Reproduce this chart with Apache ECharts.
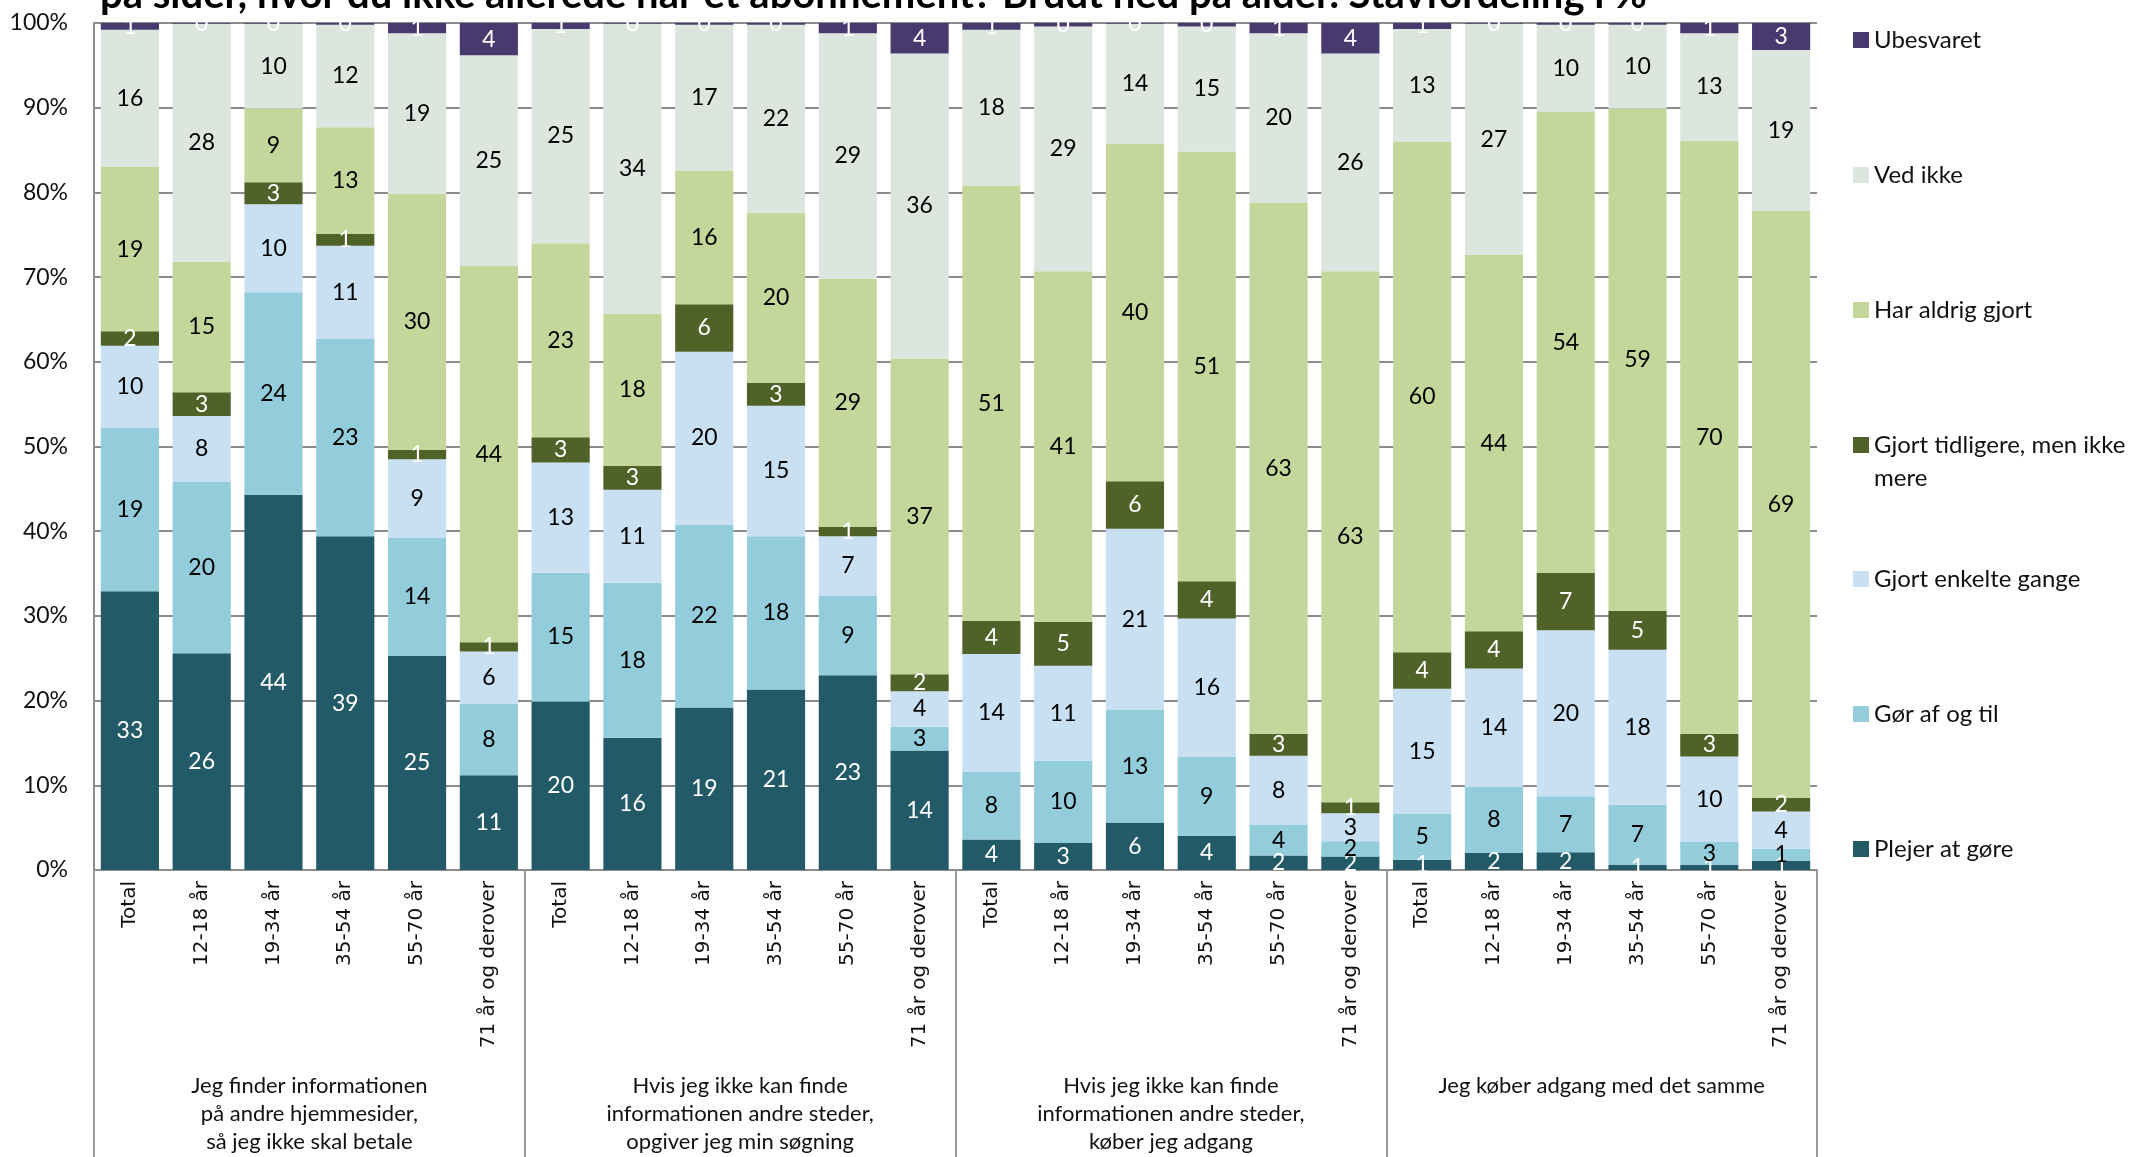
<!DOCTYPE html>
<html>
<head>
<meta charset="utf-8">
<title>Stavfordeling i %</title>
<script src="https://cdn.jsdelivr.net/npm/echarts@6/dist/echarts.min.js"></script>
<style>
  html, body { margin: 0; padding: 0; background: #ffffff; }
  #chart { width: 2141px; height: 1157px; }
</style>
</head>
<body>
<div id="chart"></div>
<script>
// Age groups shown under every statement
const ageGroups = ['Total', '12-18 år', '19-34 år', '35-54 år', '55-70 år', '71 år og derover'];

// Statements (one block of six bars each)
const statements = [
  'Jeg finder informationen\npå andre hjemmesider,\nså jeg ikke skal betale',
  'Hvis jeg ikke kan finde\ninformationen andre steder,\nopgiver jeg min søgning',
  'Hvis jeg ikke kan finde\ninformationen andre steder,\nkøber jeg adgang',
  'Jeg køber adgang med det samme'
];

// Answer categories, bottom of the stack first
const seriesNames = [
  'Plejer at gøre',
  'Gør af og til',
  'Gjort enkelte gange',
  'Gjort tidligere, men ikke mere',
  'Har aldrig gjort',
  'Ved ikke',
  'Ubesvaret'
];

// Shares in % (6 age groups per statement, 4 statements)
const plejerAtGore = [
  32.9, 25.6, 44.3, 39.4, 25.3, 11.2,
  19.9, 15.6, 19.2, 21.3, 23.0, 14.1,
  3.6, 3.2, 5.6, 4.0, 1.7, 1.6,
  1.2, 2.0, 2.1, 0.6, 0.6, 1.1
];
const gorAfOgTil = [
  19.3, 20.2, 23.9, 23.3, 13.9, 8.4,
  15.2, 18.3, 21.6, 18.1, 9.4, 2.8,
  8.0, 9.7, 13.3, 9.4, 3.6, 1.8,
  5.4, 7.8, 6.6, 7.1, 2.7, 1.4
];
const gjortEnkelteGange = [
  9.7, 7.8, 10.4, 11.0, 9.3, 6.2,
  13.0, 11.0, 20.4, 15.4, 7.0, 4.2,
  13.9, 11.2, 21.4, 16.3, 8.2, 3.3,
  14.8, 14.0, 19.6, 18.3, 10.1, 4.4
];
const gjortTidligere = [
  1.7, 2.8, 2.6, 1.4, 1.1, 1.1,
  3.0, 2.8, 5.6, 2.7, 1.1, 2.0,
  3.9, 5.2, 5.6, 4.4, 2.6, 1.3,
  4.3, 4.4, 6.8, 4.6, 2.7, 1.6
];
const harAldrigGjort = [
  19.4, 15.4, 8.7, 12.6, 30.2, 44.4,
  22.9, 18.0, 15.8, 20.1, 29.3, 37.3,
  51.4, 41.4, 39.8, 50.7, 62.7, 62.7,
  60.3, 44.4, 54.4, 59.3, 70.0, 69.3
];
const vedIkke = [
  16.2, 28.1, 10.0, 12.1, 19.0, 24.9,
  25.3, 34.2, 17.2, 22.2, 29.0, 36.0,
  18.4, 28.9, 14.2, 14.8, 20.0, 25.7,
  13.3, 27.3, 10.3, 9.9, 12.7, 19.0
];
const ubesvaret = [
  0.8, 0.1, 0.1, 0.2, 1.2, 3.8,
  0.7, 0.1, 0.2, 0.2, 1.2, 3.6,
  0.8, 0.4, 0.1, 0.4, 1.2, 3.6,
  0.7, 0.1, 0.2, 0.2, 1.2, 3.2
];

// Y axis ticks (percent)
const yTicks = { min: 0, max: 100, interval: 10 };

const seriesValues = [plejerAtGore, gorAfOgTil, gjortEnkelteGange, gjortTidligere, harAldrigGjort, vedIkke, ubesvaret];
const seriesColors = ['#225a68', '#93cddb', '#c8e0f2', '#4f6228', '#c4d79b', '#dce6df', '#483a6e'];
const labelColors  = ['#ffffff', '#000000', '#000000', '#ffffff', '#000000', '#000000', '#ffffff'];

// One x category per bar: age groups repeated for each statement
const barCategories = [];
statements.forEach(() => ageGroups.forEach(a => barCategories.push(a)));

const textFont = 'Lato, "Open Sans", "DejaVu Sans", sans-serif';

const chart = echarts.init(document.getElementById('chart'), null, { renderer: 'canvas' });

// Legend: one component per entry so each sits at its own row, top entry first
const legendRows = [
  { name: 'Ubesvaret', center: 40 },
  { name: 'Ved ikke', center: 175 },
  { name: 'Har aldrig gjort', center: 310 },
  { name: 'Gjort tidligere, men ikke mere', center: 445, twoLine: true },
  { name: 'Gjort enkelte gange', center: 579 },
  { name: 'Gør af og til', center: 714 },
  { name: 'Plejer at gøre', center: 849 }
];
const legends = legendRows.map(row => ({
  data: [row.name],
  orient: 'vertical',
  left: 1853,
  top: row.twoLine ? row.center - 16.5 : row.center - 13,
  padding: 0,
  itemGap: 0,
  selectedMode: false,
  itemWidth: 16,
  itemHeight: row.twoLine ? 49 : 16,
  icon: row.twoLine ? 'path://M0,0L16,0L16,16L0,16Z M0,48.9L0.1,48.9L0.1,49L0,49Z' : 'rect',
  formatter: n => row.twoLine ? 'Gjort tidligere, men ikke\nmere' : n,
  textStyle: {
    fontFamily: textFont,
    fontSize: 24,
    color: '#111111',
    lineHeight: row.twoLine ? 33 : 26
  }
}));

const option = {
  backgroundColor: '#ffffff',
  animation: false,
  title: {
    text: 'på sider, hvor du ikke allerede har et abonnement? Brudt ned på alder. Stavfordeling i %',
    left: 100,
    top: -25,
    padding: 0,
    z: 10,
    textStyle: {
      fontFamily: textFont,
      fontWeight: 'bold',
      fontSize: 40,
      color: '#000000'
    }
  },
  legend: legends,
  grid: {
    left: 94,
    right: 324,
    top: 23,
    bottom: 287,
    containLabel: false
  },
  xAxis: [
    {
      type: 'category',
      data: barCategories,
      position: 'bottom',
      boundaryGap: true,
      axisLine: { show: true, lineStyle: { color: '#8c8c8c', width: 2 } },
      axisTick: { show: false },
      axisLabel: {
        interval: 0,
        rotate: 90,
        margin: 11,
        fontFamily: '"DejaVu Sans", Verdana, sans-serif',
        fontSize: 20,
        color: '#111111'
      },
      splitLine: { show: false }
    },
    {
      type: 'category',
      data: statements,
      position: 'bottom',
      boundaryGap: true,
      axisLine: { show: false },
      axisTick: {
        show: true,
        inside: false,
        length: 290,
        lineStyle: { color: '#9a9a9a', width: 2 }
      },
      axisLabel: {
        interval: 0,
        margin: 202,
        fontFamily: textFont,
        fontSize: 22,
        lineHeight: 28,
        color: '#111111',
        verticalAlign: 'top'
      },
      splitLine: { show: false }
    }
  ],
  yAxis: {
    type: 'value',
    min: yTicks.min,
    max: yTicks.max,
    interval: yTicks.interval,
    axisLine: { show: true, lineStyle: { color: '#8c8c8c', width: 2 } },
    axisTick: { show: false },
    axisLabel: {
      formatter: '{value}%',
      margin: 26,
      fontFamily: textFont,
      fontSize: 23,
      color: '#111111'
    },
    splitLine: { show: true, lineStyle: { color: '#8c8c8c', width: 2 } }
  },
  series: seriesNames.map((name, i) => ({
    name: name,
    type: 'bar',
    stack: 'total',
    xAxisIndex: 0,
    barCategoryGap: '19%',
    data: seriesValues[i],
    itemStyle: { color: seriesColors[i] },
    label: {
      show: true,
      position: 'inside',
      formatter: p => String(Math.round(p.value)),
      fontFamily: textFont,
      fontSize: 23,
      color: labelColors[i]
    },
    emphasis: { disabled: true }
  }))
};

chart.setOption(option);
</script>
</body>
</html>
